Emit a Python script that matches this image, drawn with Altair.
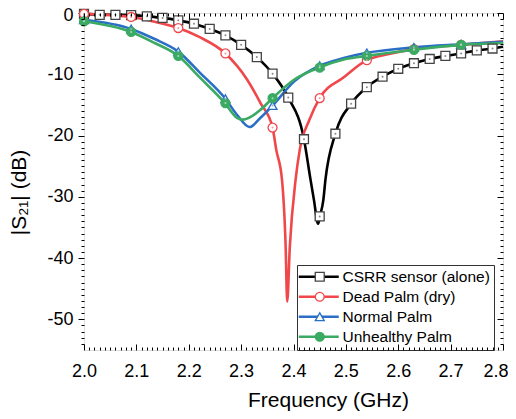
import altair as alt
import pandas as pd

FONT = "Liberation Sans"

series_names = ["CSRR sensor (alone)", "Dead Palm (dry)", "Normal Palm", "Unhealthy Palm"]
line_colors = ["#000000", "#F0474B", "#2A6EC6", "#3BAA62"]
marker_fill = ["#ffffff", "#ffffff", "#ffffff", "#3BAA62"]
marker_stroke = ["#444444", "#F0474B", "#2A6EC6", "#3BAA62"]
marker_shapes = ["square", "circle", "triangle-up", "circle"]
dot_colors = ["#8a8a8a", "#f39a9a", "#8fb2e0", "#a9dcb9"]

# ---- curve samples (GHz, dB) ----
csrr_f = [2.00, 2.03, 2.06, 2.09, 2.12, 2.15, 2.18, 2.21, 2.24, 2.27, 2.30, 2.33, 2.36, 2.39, 2.42,
          2.4325, 2.439, 2.447, 2.451, 2.457, 2.461, 2.48, 2.51, 2.54, 2.57, 2.60, 2.63, 2.66,
          2.69, 2.72, 2.75, 2.78, 2.80]
csrr_db = [-0.15, -0.25, -0.3, -0.35, -0.55, -0.8, -1.2, -1.75, -2.6, -3.65, -5.2, -7.2, -9.9, -13.8, -20.6,
           -27.2, -30.5, -34.4, -33.0, -30.5, -27.2, -19.7, -14.8, -12.1, -10.4, -9.1, -8.2, -7.5,
           -7.0, -6.6, -6.1, -5.8, -5.5]

dead_f = [2.00, 2.05, 2.09, 2.133, 2.18, 2.22, 2.27, 2.311, 2.337, 2.36, 2.367, 2.378, 2.385, 2.388,
          2.393, 2.404, 2.412, 2.43, 2.45, 2.496, 2.54, 2.58, 2.63, 2.72, 2.80]
dead_db = [-0.15, -0.35, -0.65, -1.4, -2.45, -3.9, -6.6, -10.8, -14.7, -18.7, -22.3, -27.2, -38.1, -47.1,
           -38.1, -27.2, -22.3, -17.5, -13.9, -10.5, -7.7, -6.75, -5.9, -5.2, -4.6]

normal_f = [2.00, 2.09, 2.135, 2.18, 2.222, 2.27, 2.292, 2.316, 2.337, 2.36, 2.401, 2.45, 2.496, 2.54,
            2.63, 2.72, 2.80]
normal_db = [-1.1, -2.6, -4.25, -6.3, -9.8, -14.0, -16.6, -18.6, -17.1, -15.1, -11.2, -8.6, -7.35, -6.5,
             -5.6, -5.1, -4.7]

unhealthy_f = [2.00, 2.09, 2.135, 2.18, 2.222, 2.269, 2.292, 2.303, 2.315, 2.337, 2.36, 2.401, 2.449,
               2.496, 2.54, 2.63, 2.72, 2.80]
unhealthy_db = [-1.35, -3.1, -4.9, -7.0, -10.6, -14.7, -17.1, -17.4, -17.1, -15.8, -13.9, -10.9, -8.9,
                -7.6, -7.0, -6.0, -5.2, -4.9]

# ---- marker positions ----
csrr_mf = [2.00, 2.03, 2.06, 2.09, 2.12, 2.15, 2.18, 2.21, 2.24, 2.27, 2.30, 2.33, 2.36, 2.39, 2.42,
           2.45, 2.48, 2.51, 2.54, 2.57, 2.60, 2.63, 2.66, 2.69, 2.72, 2.75, 2.78]
csrr_mdb = [-0.15, -0.3, -0.3, -0.35, -0.55, -0.8, -1.2, -1.75, -2.6, -3.65, -5.2, -7.2, -9.9, -13.8, -20.6,
            -33.2, -19.7, -14.8, -12.1, -10.4, -9.1, -8.2, -7.5, -7.0, -6.6, -6.1, -5.8]
dead_mf = [2.00, 2.09, 2.18, 2.27, 2.36, 2.45, 2.54, 2.63, 2.72]
dead_mdb = [-0.15, -0.65, -2.45, -6.6, -18.7, -13.9, -7.7, -5.9, -5.2]
normal_mf = [2.00, 2.09, 2.18, 2.27, 2.36, 2.45, 2.54, 2.63, 2.72]
normal_mdb = [-1.1, -2.6, -6.3, -14.0, -15.1, -8.6, -6.5, -5.6, -5.1]
unhealthy_mf = [2.00, 2.09, 2.18, 2.27, 2.36, 2.45, 2.54, 2.63, 2.72]
unhealthy_mdb = [-1.35, -3.1, -7.0, -14.7, -13.9, -8.9, -7.0, -6.0, -5.2]

x_major = [2.0, 2.1, 2.2, 2.3, 2.4, 2.5, 2.6, 2.7, 2.8]
y_major = [0, -10, -20, -30, -40, -50]

curves = [(csrr_f, csrr_db), (dead_f, dead_db), (normal_f, normal_db), (unhealthy_f, unhealthy_db)]
marks = [(csrr_mf, csrr_mdb), (dead_mf, dead_mdb), (normal_mf, normal_mdb), (unhealthy_mf, unhealthy_mdb)]

line_rows = []
for name, (fs, ds) in zip(series_names, curves):
    for f, d in zip(fs, ds):
        line_rows.append({"series": name, "f": f, "db": d})
line_df = pd.DataFrame(line_rows)

mark_rows = []
for name, (fs, ds) in zip(series_names, marks):
    for f, d in zip(fs, ds):
        mark_rows.append({"series": name, "label": name, "f": f, "db": d})
mark_df = pd.DataFrame(mark_rows)

x_minor = [round(2.0 + i * 0.01, 2) for i in range(1, 80) if i % 10 != 0]
y_minor = [-i for i in range(1, 55) if i % 10 != 0]

xs = alt.Scale(domain=[2.0, 2.8], nice=False, zero=False)
ys = alt.Scale(domain=[-55, 0], nice=False, zero=False)


def tick_axis(orient, values, size, offset):
    return alt.Axis(orient=orient, values=values, tickSize=size, offset=offset, labels=False,
                    domain=False, grid=False, title=None, ticks=True, tickColor="black",
                    tickWidth=1, zindex=2)


main_x_axis = alt.Axis(
    orient="bottom", values=x_major, labelExpr="format(datum.value, '.1f')",
    labelFont=FONT, labelFontSize=18, labelColor="black", labelPadding=12,
    labelAlign={"condition": {"test": "datum.value > 2.79", "value": "right"}, "value": "center"},
    labelOffset={"condition": {"test": "datum.value > 2.79", "value": 5}, "value": 0},
    labelFlush=False, labelOverlap=False, ticks=False, domain=False, grid=False,
    title="Frequency (GHz)", titleFont=FONT, titleFontSize=21, titleFontWeight="normal",
    titleColor="black", titleX=244, titleY=56, titleAlign="center", titleBaseline="alphabetic")

main_y_axis = alt.Axis(
    orient="left", values=y_major, labelExpr="'' + datum.value",
    labelFont=FONT, labelFontSize=18, labelColor="black", labelPadding=5,
    labelOffset={"condition": {"test": "datum.value > -1", "value": 2.5}, "value": 0},
    labelFlush=False, labelOverlap=False, ticks=True, tickSize=6, tickColor="black", tickWidth=1,
    domain=False, grid=False,
    title="|S₂₁| (dB)", titleFont=FONT, titleFontSize=21, titleFontWeight="normal",
    titleColor="black", titleX=-65, titleY=179, titleAngle=-90, titleAlign="center",
    titleBaseline="middle")

# line legend: a custom horizontal-line symbol, 40 px long at size 100
legend_lines = alt.Legend(
    orient="none", legendX=213, legendY=252, title=None, symbolType="M-4,0H4",
    symbolSize=100, symbolStrokeWidth=2.6, labelFont=FONT, labelFontSize=15.5,
    labelColor="black", padding=4, rowPadding=3.0, strokeColor="#333333",
    fillColor="white", labelOffset=16, symbolOffset=10)

# marker legend drawn over the line legend (its labels are blank)
legend_marks = alt.Legend(
    orient="none", legendX=224, legendY=252, title=None, symbolSize=80,
    symbolStrokeWidth=1.3, labelFont=FONT, labelFontSize=15.5, labelExpr="''",
    padding=4, rowPadding=3.0, labelOffset=3)

# scales take their domain from the data (alphabetical order == series_names order),
# so the line legend and the marker legend stay separate
lines = alt.Chart(line_df).mark_line(strokeWidth=2.6, interpolate="monotone").encode(
    x=alt.X("f:Q", scale=xs, axis=main_x_axis),
    y=alt.Y("db:Q", scale=ys, axis=main_y_axis),
    color=alt.Color("series:N", scale=alt.Scale(range=line_colors), legend=legend_lines),
)

points = alt.Chart(mark_df).mark_point(size=80, strokeWidth=1.3, opacity=1).encode(
    x=alt.X("f:Q", scale=xs, axis=None),
    y=alt.Y("db:Q", scale=ys, axis=None),
    shape=alt.Shape("label:N", scale=alt.Scale(range=marker_shapes), legend=legend_marks),
    stroke=alt.Stroke("label:N", scale=alt.Scale(range=marker_stroke), legend=legend_marks),
    fill=alt.Fill("label:N", scale=alt.Scale(range=marker_fill), legend=legend_marks),
)

dot_layers = []
for name, dc in zip(series_names, dot_colors):
    dot_layers.append(
        alt.Chart(mark_df).transform_filter(alt.datum.series == name)
        .mark_point(filled=True, size=4, opacity=1, color=dc).encode(
            x=alt.X("f:Q", scale=xs, axis=None),
            y=alt.Y("db:Q", scale=ys, axis=None),
        )
    )


def axis_layer(xaxis, yaxis):
    return alt.Chart(mark_df).mark_point(opacity=0).encode(
        x=alt.X("f:Q", scale=xs, axis=xaxis),
        y=alt.Y("db:Q", scale=ys, axis=yaxis),
    )


ax_a = axis_layer(tick_axis("bottom", x_major, 6, -6), tick_axis("left", y_minor, 3, 0))
ax_b = axis_layer(tick_axis("bottom", x_minor, 3, -3), tick_axis("right", y_major, 6, -6))
ax_c = axis_layer(tick_axis("top", x_major, 6, -6), tick_axis("right", y_minor, 3, -3))
ax_d = axis_layer(tick_axis("top", x_minor, 3, -3), None)

chart = alt.layer(lines, points, *dot_layers, ax_a, ax_b, ax_c, ax_d).resolve_axis(
    x="independent", y="independent"
).properties(
    width=419, height=337,
    autosize=alt.AutoSizeParams(type="none"),
    padding={"left": 76, "top": 5, "right": 5, "bottom": 61},
    background="white",
).configure_view(stroke="black", strokeWidth=1.5).configure(font=FONT)

chart.save("out.html", embed_options={"renderer": "svg", "actions": False})
